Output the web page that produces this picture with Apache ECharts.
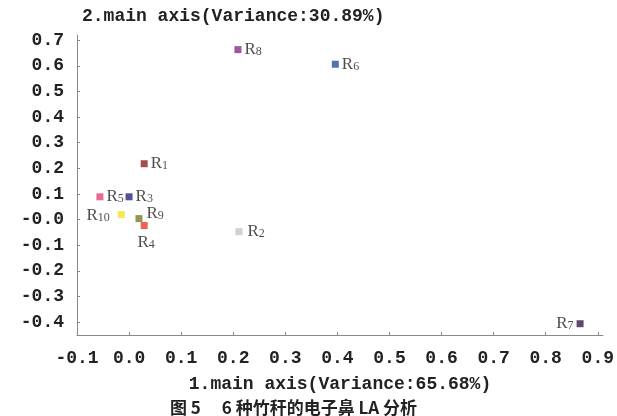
<!DOCTYPE html>
<html><head><meta charset="utf-8">
<script src="https://cdn.jsdelivr.net/npm/echarts@6/dist/echarts.min.js"></script>
<style>html,body{margin:0;padding:0;background:#fff}#c{width:617px;height:416px}</style>
</head><body><div id="c"></div>
<script>
const names = ['R1','R2','R3','R4','R5','R6','R7','R8','R9','R10'];
const xVals = [0.029, 0.211, 0.000, 0.029, -0.056, 0.396, 0.866, 0.209, 0.019, -0.015];
const yVals = [0.218, -0.047, 0.089, -0.023, 0.089, 0.606, -0.406, 0.663, 0.004, 0.020];
const xTicks = [-0.1,0,0.1,0.2,0.3,0.4,0.5,0.6,0.7,0.8,0.9];
const yTicks = [0.7,0.6,0.5,0.4,0.3,0.2,0.1,0,-0.1,-0.2,-0.3,-0.4];
const xName = '1.main axis(Variance:65.68%)';
const yName = '2.main axis(Variance:30.89%)';
const caption = '图 5\u2003 6 种竹秆的电子鼻 LA 分析';

const colors = {R1:'#8e1f24',R2:'#c4c4c4',R3:'#25277e',R4:'#ec3a2c',R5:'#e2427c',R6:'#2a4aa2',R7:'#3c1a48',R8:'#8c2a8c',R9:'#7d7a2a',R10:'#f2e52a'};
const labelPos = {R1:'right',R2:'right',R3:'right',R4:'bottom',R5:'right',R6:'right',R7:'left',R8:'right',R9:'right',R10:'left'};
const labelOff = {R9:[1,-5],R4:[2,2],R10:[-5,1],R2:[2,0]};

const mono = '"Liberation Mono", "DejaVu Sans Mono", monospace';
const serif = '"Liberation Serif", "DejaVu Serif", serif';

const data = names.map((n,i)=>({
  value:[xVals[i], yVals[i]],
  name:n,
  itemStyle:{color:colors[n]},
  label:{position:labelPos[n], offset:labelOff[n]||[0,0], distance:3}
}));

const chart = echarts.init(document.getElementById('c'));
chart.setOption({
  animation:false,
  textStyle:{fontFamily:mono},
  grid:{left:77,right:9,top:35,bottom:81},
  title:{text:caption,left:170,top:399,padding:[0,0,0,0],textStyle:{fontFamily:'"Noto Sans CJK SC", sans-serif',fontSize:17,fontWeight:'bold',color:'#222',lineHeight:17}},
  xAxis:{type:'value',min:-0.1,max:0.91,
    name:xName,nameLocation:'middle',nameGap:40,
    nameTextStyle:{fontFamily:mono,fontSize:18,fontWeight:'bold',color:'#222'},
    axisLine:{show:true,onZero:false,lineStyle:{color:'#888',width:1}},
    axisTick:{show:true,inside:true,length:3,customValues:xTicks,lineStyle:{color:'#888'}},
    axisLabel:{customValues:xTicks,fontFamily:mono,fontSize:18,fontWeight:'bold',color:'#222',margin:14,
      formatter:v=>v.toFixed(1)},
    splitLine:{show:false}},
  yAxis:{type:'value',min:-0.45,max:0.72,
    name:yName,nameLocation:'end',nameGap:10,
    nameTextStyle:{fontFamily:mono,fontSize:18,fontWeight:'bold',color:'#222',align:'left',padding:[0,0,0,5]},
    axisLine:{show:true,onZero:false,lineStyle:{color:'#888',width:1}},
    axisTick:{show:true,inside:true,length:3,customValues:yTicks,lineStyle:{color:'#888'}},
    axisLabel:{customValues:yTicks,fontFamily:mono,fontSize:18,fontWeight:'bold',color:'#222',margin:13,
      formatter:v=>(Math.abs(v)<1e-9?'-0.0':v.toFixed(1))},
    splitLine:{show:false}},
  series:[{type:'scatter',symbol:'rect',symbolSize:7,data:data,
    label:{show:true,color:'#222',
      formatter:p=>'{r|R}{s|'+p.name.slice(1)+'}',
      rich:{r:{fontFamily:serif,fontSize:17,color:'#222'},s:{fontFamily:serif,fontSize:12,color:'#222',verticalAlign:'bottom',padding:[5,0,0,0]}}}
  }]
});
</script></body></html>
